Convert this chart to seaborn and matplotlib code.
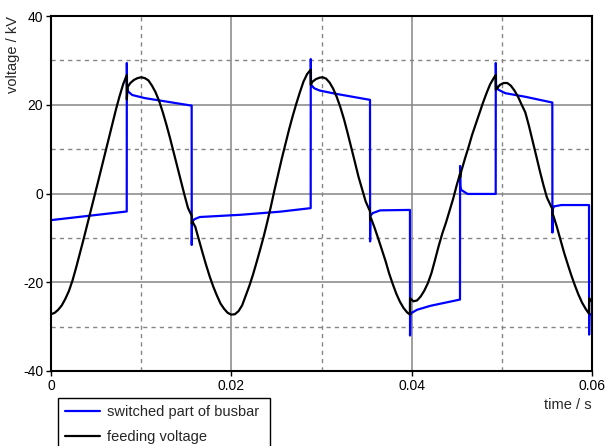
import pandas as pd
import matplotlib.pyplot as plt
import seaborn as sns

# values (time in s, voltage in kV)
busbar_t = [0.0, 0.00840, 0.00841, 0.00843, 0.00855, 0.0090, 0.0104, 0.01560,
            0.01561, 0.01563, 0.0159, 0.0165, 0.0210, 0.0254, 0.02880,
            0.02881, 0.02884, 0.0292, 0.0298, 0.0315, 0.03538,
            0.03539, 0.03542, 0.0357, 0.0365, 0.03981,
            0.03982, 0.03985, 0.0400, 0.0406, 0.0421, 0.04536,
            0.04537, 0.04540, 0.0455, 0.0462, 0.04932,
            0.04933, 0.04936, 0.0496, 0.0504, 0.0526, 0.05560,
            0.05561, 0.05564, 0.0558, 0.0566, 0.05967,
            0.05968, 0.05971, 0.0600]
busbar_v = [-6.0, -4.05, 29.4, 24.5, 23.0, 22.2, 21.5, 19.8,
            -11.6, -6.5, -5.8, -5.3, -4.8, -4.1, -3.3,
            30.3, 24.5, 23.7, 23.2, 22.5, 21.1,
            -10.8, -5.0, -4.4, -3.8, -3.7,
            -32.0, -27.3, -26.9, -26.2, -25.3, -23.9,
            6.2, 1.5, 0.8, -0.1, -0.1,
            29.4, 24.5, 23.4, 22.6, 21.8, 20.5,
            -8.8, -3.5, -2.9, -2.6, -2.6,
            -31.8, -27.5, -27.0]

feeding_t = [0.0000, 0.0004, 0.0008, 0.0012, 0.0016, 0.0020, 0.0024, 0.0028,
             0.0032, 0.0036, 0.0040, 0.0044, 0.0048, 0.0052, 0.0056, 0.0060,
             0.0064, 0.0068, 0.0072, 0.0076, 0.0080, 0.00840, 0.00841, 0.0085,
             0.0088, 0.0092, 0.0096, 0.0100, 0.0104, 0.0108, 0.0112, 0.0116,
             0.0120, 0.0124, 0.0128, 0.0132, 0.0136, 0.0140, 0.0144, 0.0148,
             0.0152, 0.01560, 0.01561, 0.0157, 0.0160, 0.0164, 0.0168, 0.0172,
             0.0176, 0.0180, 0.0184, 0.0188, 0.0192, 0.0196, 0.0200, 0.0204,
             0.0208, 0.0212, 0.0216, 0.0220, 0.0224, 0.0228, 0.0232, 0.0236,
             0.0240, 0.0244, 0.0248, 0.0252, 0.0256, 0.0260, 0.0264, 0.0268,
             0.0272, 0.0276, 0.0280, 0.0284, 0.02880, 0.02881, 0.0290, 0.0294,
             0.0298, 0.0301, 0.0305, 0.0309, 0.0313, 0.0317, 0.0321, 0.0325,
             0.0329, 0.0333, 0.0337, 0.0341, 0.0345, 0.0349, 0.03538, 0.03539,
             0.0355, 0.0359, 0.0363, 0.0367, 0.0371, 0.0375, 0.0379, 0.0383,
             0.0387, 0.0391, 0.0395, 0.03981, 0.03982, 0.0402, 0.0406, 0.0410,
             0.0414, 0.0418, 0.0422, 0.0426, 0.0430, 0.0434, 0.0438, 0.0442,
             0.0446, 0.0450, 0.04536, 0.04537, 0.0455, 0.0459, 0.0463, 0.0467,
             0.0471, 0.0475, 0.0479, 0.0483, 0.0487, 0.0491, 0.04932, 0.04933,
             0.0498, 0.0502, 0.0506, 0.0510, 0.0514, 0.0518, 0.0522, 0.0526,
             0.0530, 0.0534, 0.0538, 0.0542, 0.0546, 0.0550, 0.05560, 0.05561,
             0.0557, 0.0561, 0.0565, 0.0569, 0.0573, 0.0577, 0.0581, 0.0585,
             0.0589, 0.0593, 0.05967, 0.05968, 0.0600]
feeding_v = [-27.2, -26.9, -26.2, -25.2, -23.7, -21.9, -19.5, -16.6,
             -13.5, -10.4, -7.2, -4.0, -0.8, 2.5, 5.8, 9.1,
             12.4, 15.7, 18.9, 21.9, 24.6, 26.7, 21.2, 24.0,
             24.9, 25.6, 26.0, 26.2, 26.0, 25.5, 24.3, 22.8,
             20.8, 18.3, 15.5, 12.5, 9.3, 6.1, 2.9, -0.3,
             -3.3, -5.0, -6.8, -6.4, -7.5, -10.4, -13.3, -16.1,
             -18.7, -21.0, -23.0, -24.8, -26.0, -26.9, -27.3, -27.2,
             -26.5, -25.2, -23.0, -20.8, -18.3, -15.5, -12.6, -9.6,
             -6.3, -2.8, 0.9, 4.4, 7.9, 11.2, 14.4, 17.4,
             20.2, 22.8, 25.2, 26.9, 27.9, 24.5, 25.2, 25.8,
             26.1, 26.2, 25.9, 25.0, 23.6, 21.7, 19.4, 16.7,
             13.6, 10.4, 7.1, 3.8, 1.0, -1.8, -4.0, -6.0,
             -5.6, -7.8, -10.2, -12.7, -15.2, -18.0, -20.4, -22.6,
             -24.4, -25.8, -26.8, -27.3, -23.6, -24.3, -24.1, -23.2,
             -21.9, -20.2, -17.9, -14.9, -11.8, -9.0, -6.6, -3.9,
             -1.2, 1.9, 4.4, 3.6, 5.0, 7.8, 10.4, 13.2,
             15.6, 18.0, 20.4, 22.6, 24.6, 26.0, 26.7, 23.4,
             24.5, 24.9, 24.9, 24.3, 23.2, 21.8, 20.0, 18.3,
             15.3, 12.0, 8.6, 5.2, 2.0, -0.9, -3.5, -4.8,
             -4.9, -7.5, -10.4, -13.3, -15.9, -18.4, -20.7, -22.8,
             -24.6, -26.0, -27.1, -23.6, -24.5]

series_names = ["switched part of busbar", "feeding voltage"]

df = pd.concat([
    pd.DataFrame({"time": busbar_t, "voltage": busbar_v, "series": series_names[0]}),
    pd.DataFrame({"time": feeding_t, "voltage": feeding_v, "series": series_names[1]}),
], ignore_index=True)

sns.set_theme(style="ticks")
plt.rcParams['font.family'] = ['Liberation Sans', 'DejaVu Sans']
plt.rcParams['axes.unicode_minus'] = False

fig = plt.figure(figsize=(6.05, 4.46), dpi=100)
ax = fig.add_axes([51 / 605, 1 - 371 / 446, 541 / 605, 355 / 446])

sns.lineplot(data=df, x="time", y="voltage", hue="series", hue_order=series_names,
             palette={series_names[0]: "#0000ff", series_names[1]: "black"},
             estimator=None, sort=False, linewidth=1.6, ax=ax)

ax.set_xlim(0, 0.06)
ax.set_ylim(-40, 40)
ax.set_xticks([0, 0.02, 0.04, 0.06])
ax.set_xticklabels(["0", "0.02", "0.04", "0.06"])
ax.set_yticks([-40, -20, 0, 20, 40])
ax.set_xticks([0.01, 0.03, 0.05], minor=True)
ax.set_yticks([-30, -10, 10, 30], minor=True)
ax.set_axisbelow(True)
ax.grid(which="major", color="#858585", linestyle="-", linewidth=1.1)
ax.grid(which="minor", color="#858585", linestyle=(0, (3, 3)), linewidth=1.0)
ax.tick_params(which="major", direction="out", length=3.5, width=1, color="black",
               labelsize=10, pad=2, labelcolor="black")
ax.tick_params(which="minor", length=0)
for s in ax.spines.values():
    s.set_color("black")
    s.set_linewidth(1.5)

ax.set_xlabel("time / s", loc="right", fontsize=10.5, labelpad=4)
ax.set_ylabel("voltage / kV", loc="top", fontsize=10.5, labelpad=2)

handles, labels = ax.get_legend_handles_labels()
leg = ax.legend(handles, labels, loc="upper left",
                bbox_to_anchor=((58 - 51) / 541, (371 - 398) / 355, 212 / 541, 0),
                mode="expand", borderaxespad=0, frameon=True, fancybox=False,
                framealpha=1, edgecolor="black", fontsize=10.5, handlelength=2.4,
                handletextpad=0.45, borderpad=0.5, labelspacing=0.72)
leg.get_frame().set_linewidth(1.0)

fig.savefig("out.png", dpi=100)
